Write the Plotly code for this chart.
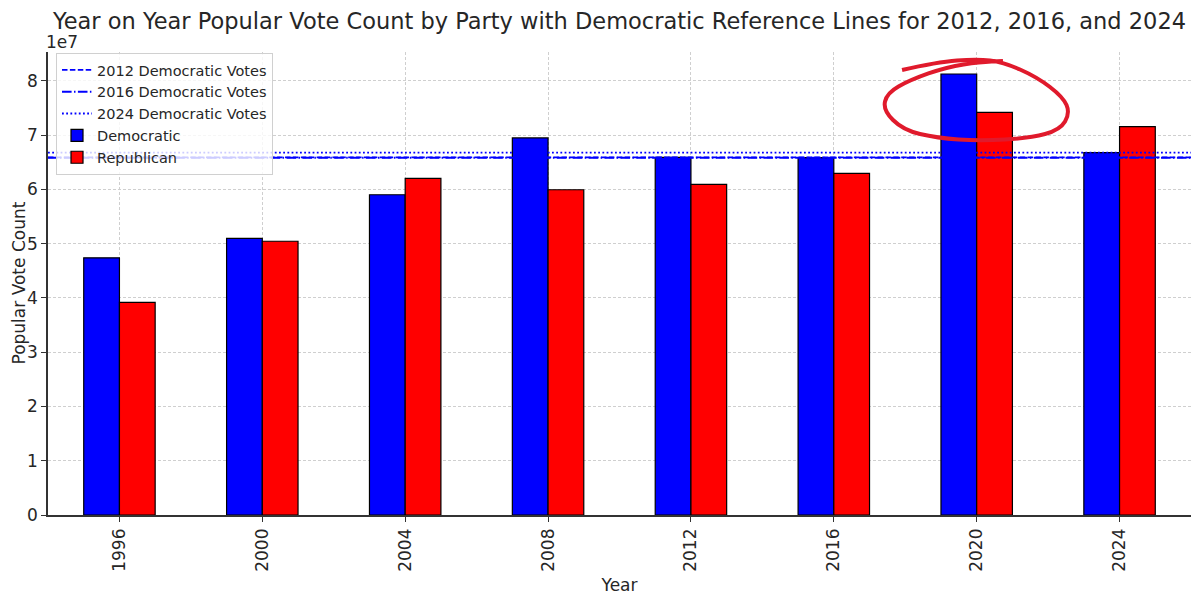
import plotly.graph_objects as go

years = ["1996", "2000", "2004", "2008", "2012", "2016", "2020", "2024"]
dem_votes = [47400125, 50999897, 59028444, 69498516, 65915795, 65853514, 81283501, 66800000]
rep_votes = [39197469, 50456002, 62040610, 59948323, 60933504, 62984828, 74223975, 71600000]
ref_names = ["2012 Democratic Votes", "2016 Democratic Votes", "2024 Democratic Votes"]
ref_values = [65915795, 65853514, 66800000]
ref_dashes = ["5.5px,2.4px", "9.6px,2.4px,1.5px,2.4px", "1.8px,2.4px"]
ytick_vals = [0, 1e7, 2e7, 3e7, 4e7, 5e7, 6e7, 7e7, 8e7]
ytick_text = ["0", "1", "2", "3", "4", "5", "6", "7", "8"]

FONT = "DejaVu Sans"
TXT = "#262626"
GRID = "#cfcfcf"

# plot area in pixels (for the hand-drawn mark)
L, R_, T, B = 48, 1191, 52, 515

fig = go.Figure()
fig.add_trace(go.Bar(x=years, y=dem_votes, name="Democratic", marker=dict(color="#0000ff", line=dict(color="black", width=1.2)), legendrank=4))
fig.add_trace(go.Bar(x=years, y=rep_votes, name="Republican", marker=dict(color="#ff0000", line=dict(color="black", width=1.2)), legendrank=5))

for i, (nm, v, d) in enumerate(zip(ref_names, ref_values, ref_dashes)):
    fig.add_shape(type="line", xref="x domain", yref="y", x0=0, x1=1, y0=v, y1=v,
                  line=dict(color="#0000ff", width=1.9, dash=d), showlegend=True, name=nm,
                  legendrank=i + 1, layer="above")

# hand-drawn red circle annotation (pixel points -> paper coords)
pts = [(902, 70), (937, 62), (977, 59), (1003, 62), (1037, 77), (1063, 97), (1070, 113), (1060, 130),
       (1030, 138), (980, 141), (937, 138), (903, 130), (883, 110), (887, 93), (910, 80), (947, 67),
       (980, 62), (1003, 61)]
def pp(p):
    return ((p[0] - L) / (R_ - L), (B - p[1]) / (B - T))
cp = [pp(p) for p in pts]
path = "M {:.4f},{:.4f}".format(*cp[0])
for i in range(1, len(cp) - 1):
    mx = (cp[i][0] + cp[i + 1][0]) / 2
    my = (cp[i][1] + cp[i + 1][1]) / 2
    path += " Q {:.4f},{:.4f} {:.4f},{:.4f}".format(cp[i][0], cp[i][1], mx, my)
path += " L {:.4f},{:.4f}".format(*cp[-1])
fig.add_shape(type="path", xref="paper", yref="paper", path=path,
              line=dict(color="#e01a2c", width=4))

fig.update_layout(
    width=1200, height=595,
    margin=dict(l=L, r=1200 - R_, t=T, b=595 - B, autoexpand=False),
    paper_bgcolor="white", plot_bgcolor="white",
    barmode="group", bargap=0.5, bargroupgap=0,
    font=dict(family=FONT, color=TXT, size=16),
    title=dict(text="Year on Year Popular Vote Count by Party with Democratic Reference Lines for 2012, 2016, and 2024",
               x=(L + R_) / 2 / 1200, xanchor="center", y=0.965, yanchor="middle",
               font=dict(size=22.5, color=TXT)),
    legend=dict(x=0.007, y=0.998, xanchor="left", yanchor="top", bgcolor="rgba(255,255,255,0.8)",
                bordercolor="#d0d0d0", borderwidth=1, font=dict(size=14.5, color=TXT),
                tracegroupgap=0, itemwidth=30),
    showlegend=True,
)
fig.update_xaxes(type="category", range=[-0.5, 7.5], tickangle=-90, showline=True, linecolor="#333", linewidth=1.5,
                 ticks="outside", ticklen=5, tickcolor="#333", tickfont=dict(size=17),
                 showgrid=True, gridcolor=GRID, griddash="3px,2px", gridwidth=1, automargin=False,
                 title=dict(text="Year", font=dict(size=17)), layer="above traces", mirror=False)
fig.update_yaxes(range=[0, 8.534e7], tickvals=ytick_vals, ticktext=ytick_text, showline=True, linecolor="#333",
                 linewidth=1.5, ticks="outside", ticklen=5, tickcolor="#333", tickfont=dict(size=17),
                 showgrid=True, gridcolor=GRID, griddash="3px,2px", gridwidth=1, zeroline=False, automargin=False,
                 layer="above traces")
fig.add_annotation(text="Popular Vote Count", xref="paper", yref="paper", x=(18 - L) / (R_ - L), y=0.5,
                   xanchor="center", yanchor="middle", textangle=-90, showarrow=False,
                   font=dict(size=17, color=TXT))
fig.add_annotation(text="1e7", xref="paper", yref="paper", x=0, y=1, xanchor="left", yanchor="bottom",
                   showarrow=False, font=dict(size=17, color=TXT), xshift=-4, yshift=-2)

fig.write_html("out.html")
